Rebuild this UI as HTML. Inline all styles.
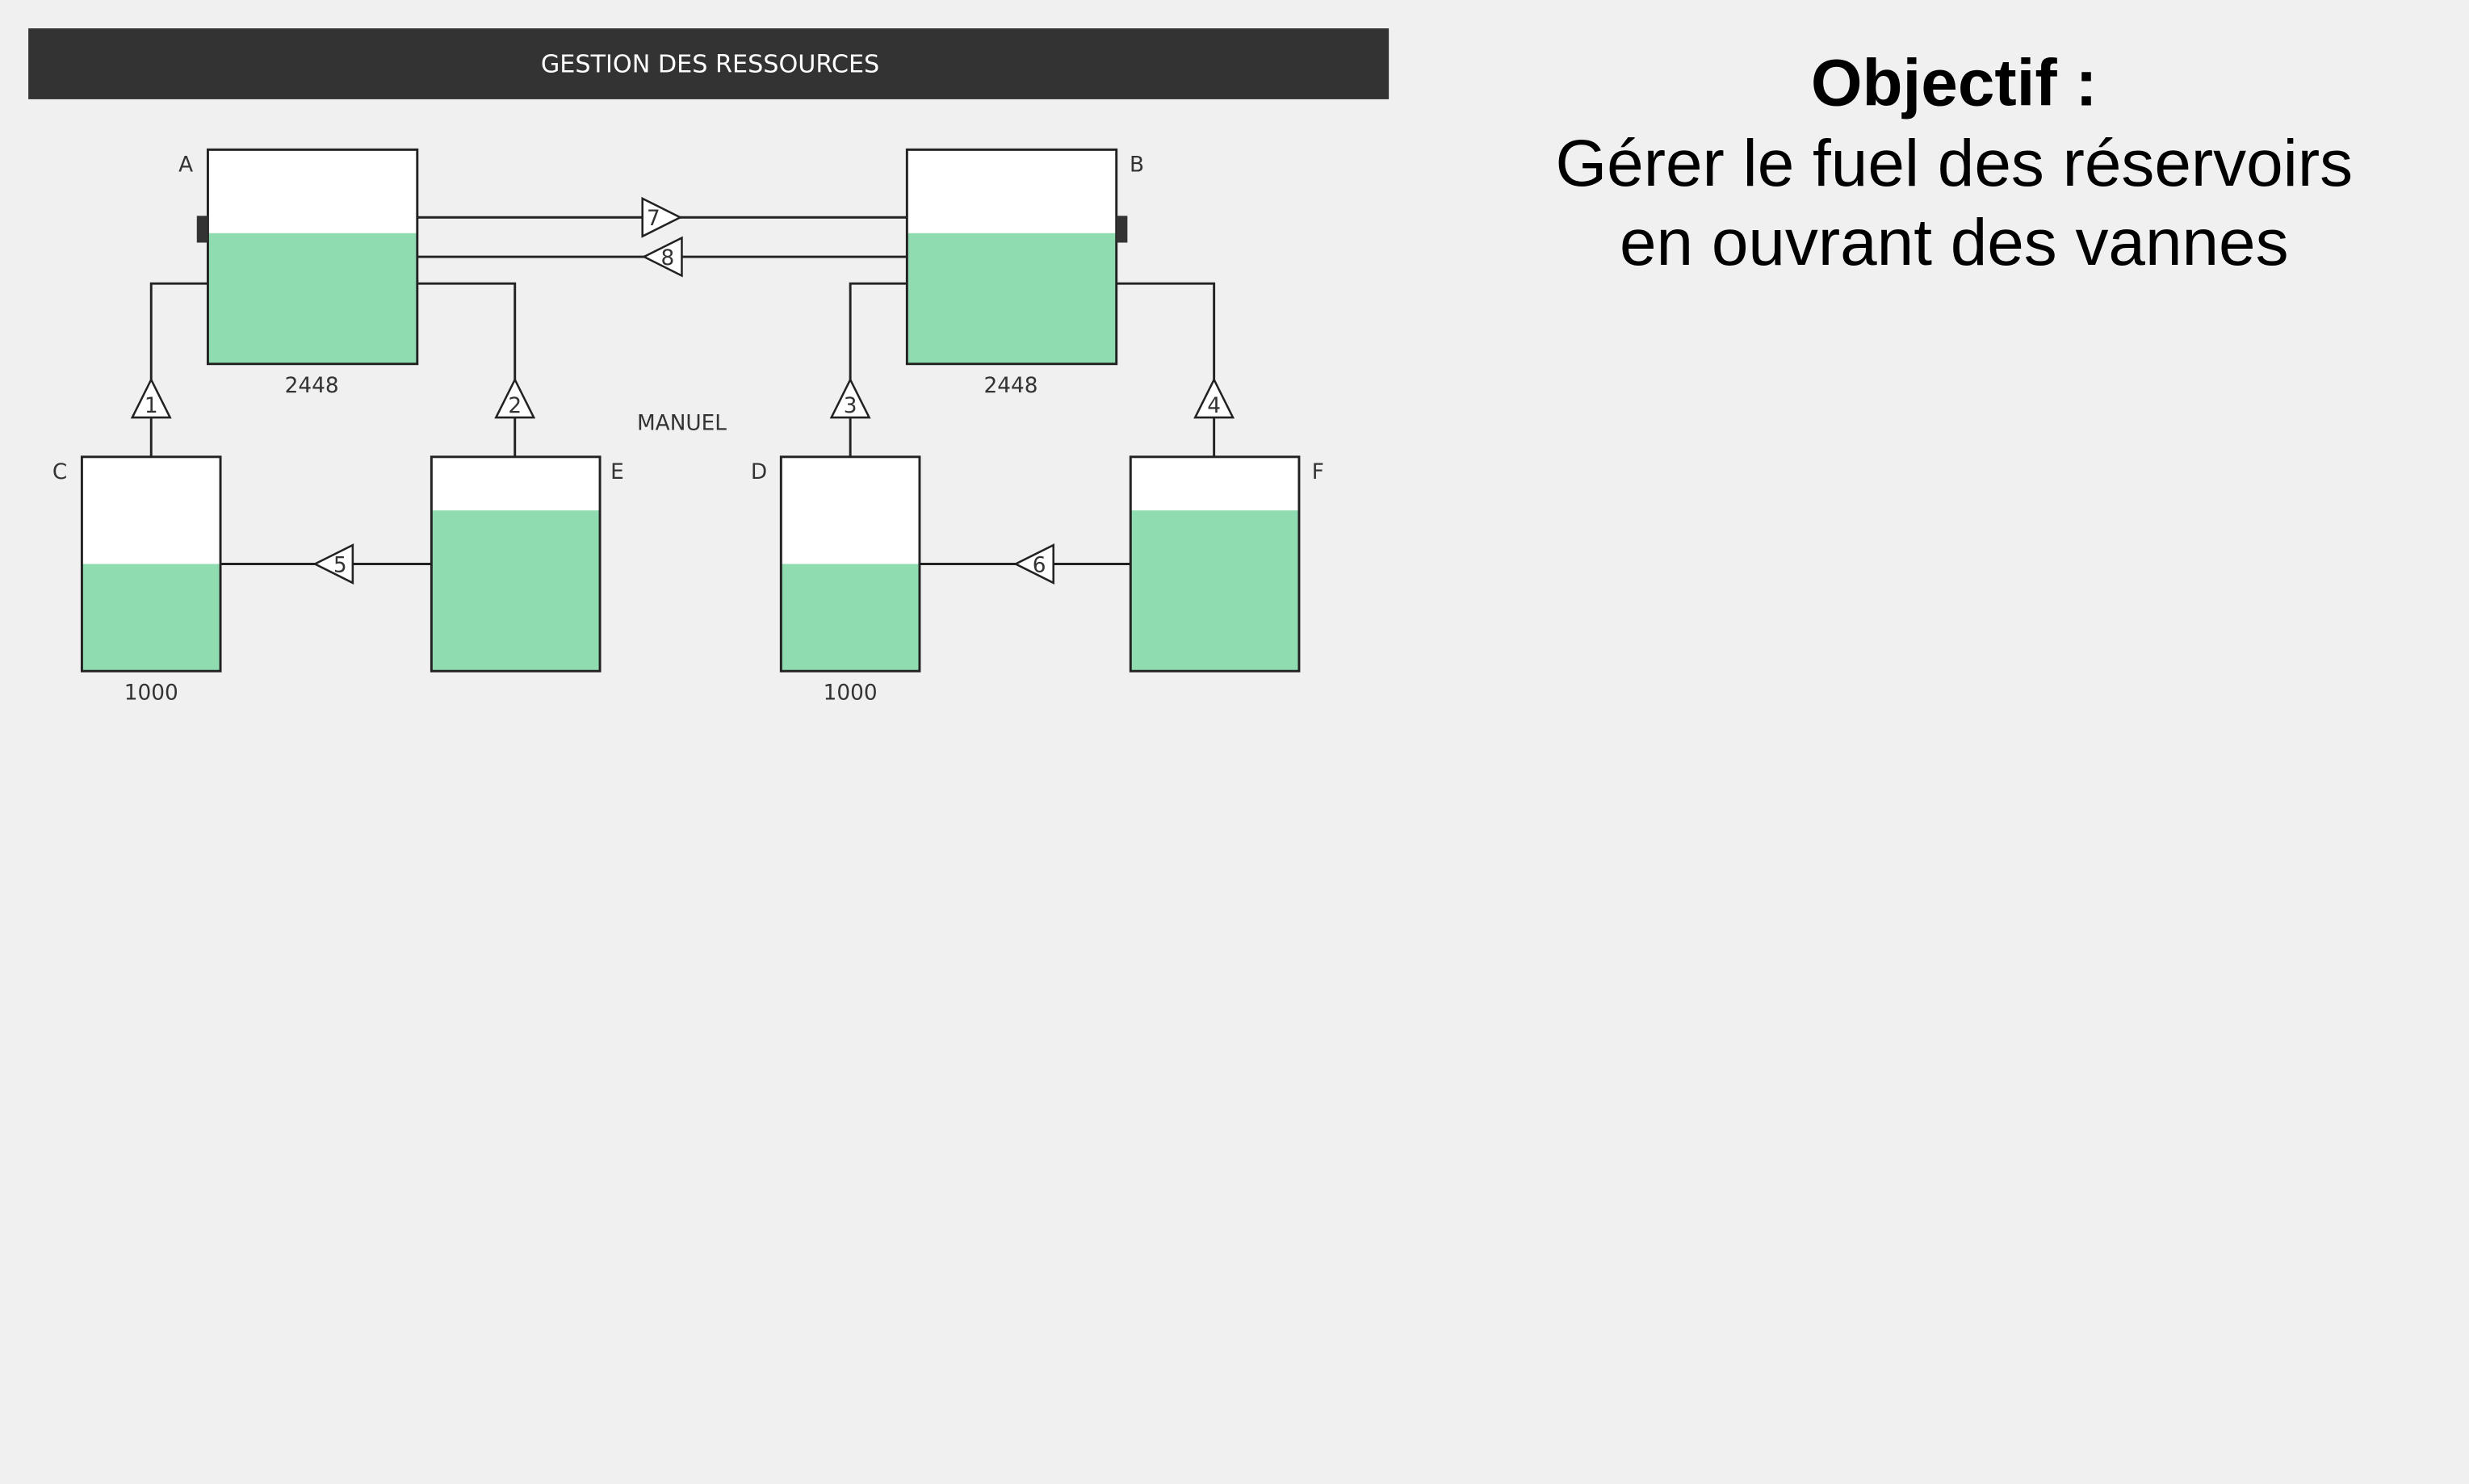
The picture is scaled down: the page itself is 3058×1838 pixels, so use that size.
<!DOCTYPE html>
<html><head><meta charset="utf-8"><style>
html,body{margin:0;padding:0;background:#f0f0f0;}
svg{display:block;}
</style></head><body>
<svg width="3058" height="1838" viewBox="0 0 1568 942" preserveAspectRatio="none" xmlns="http://www.w3.org/2000/svg">
<rect width="1568" height="942" fill="#f0f0f0"/>
<rect x="18" y="18" width="864" height="45" fill="#333"/>
<text x="451" y="46" text-anchor="middle" fill="#fff" font-family="DejaVu Sans, sans-serif" font-size="15.5">GESTION DES RESSOURCES</text>
<g stroke="#222" stroke-width="1.5" fill="none">
<path d="M265 138H576M265 163H576M132 180H96V290M265 180H327V290M576 180H540V290M709 180H771V290M140 358H274M584 358H718"/>
</g>
<g font-family="DejaVu Sans, sans-serif" font-size="13.5" fill="#333">
<rect x="132" y="95" width="133" height="136" fill="#fff"/><rect x="132" y="148" width="133" height="83" fill="#8fdcb0"/><rect x="132" y="95" width="133" height="136" fill="none" stroke="#222" stroke-width="1.5"/>
<rect x="576" y="95" width="133" height="136" fill="#fff"/><rect x="576" y="148" width="133" height="83" fill="#8fdcb0"/><rect x="576" y="95" width="133" height="136" fill="none" stroke="#222" stroke-width="1.5"/>
<rect x="125" y="137" width="7" height="17" fill="#333"/><rect x="709" y="137" width="7" height="17" fill="#333"/>
<rect x="52" y="290" width="88" height="136" fill="#fff"/><rect x="52" y="358" width="88" height="68" fill="#8fdcb0"/><rect x="52" y="290" width="88" height="136" fill="none" stroke="#222" stroke-width="1.5"/>
<rect x="274" y="290" width="107" height="136" fill="#fff"/><rect x="274" y="324" width="107" height="102" fill="#8fdcb0"/><rect x="274" y="290" width="107" height="136" fill="none" stroke="#222" stroke-width="1.5"/>
<rect x="496" y="290" width="88" height="136" fill="#fff"/><rect x="496" y="358" width="88" height="68" fill="#8fdcb0"/><rect x="496" y="290" width="88" height="136" fill="none" stroke="#222" stroke-width="1.5"/>
<rect x="718" y="290" width="107" height="136" fill="#fff"/><rect x="718" y="324" width="107" height="102" fill="#8fdcb0"/><rect x="718" y="290" width="107" height="136" fill="none" stroke="#222" stroke-width="1.5"/>
<g fill="#fff" stroke="#222" stroke-width="1.3">
<polygon points="408,126 432,138 408,150"/>
<polygon points="433,151 409,163 433,175"/>
<polygon points="84,265 96,241 108,265"/>
<polygon points="315,265 327,241 339,265"/>
<polygon points="528,265 540,241 552,265"/>
<polygon points="759,265 771,241 783,265"/>
<polygon points="224,346 200,358 224,370"/>
<polygon points="669,346 645,358 669,370"/>
</g>
<text x="415" y="143" text-anchor="middle">7</text>
<text x="424" y="168" text-anchor="middle">8</text>
<text x="96" y="262" text-anchor="middle">1</text>
<text x="327" y="262" text-anchor="middle">2</text>
<text x="540" y="262" text-anchor="middle">3</text>
<text x="771" y="262" text-anchor="middle">4</text>
<text x="216" y="363" text-anchor="middle">5</text>
<text x="660" y="363" text-anchor="middle">6</text>
<text x="118" y="109" text-anchor="middle">A</text>
<text x="722" y="109" text-anchor="middle">B</text>
<text x="38" y="304" text-anchor="middle">C</text>
<text x="392" y="304" text-anchor="middle">E</text>
<text x="482" y="304" text-anchor="middle">D</text>
<text x="837" y="304" text-anchor="middle">F</text>
<text x="198" y="249" text-anchor="middle">2448</text>
<text x="642" y="249" text-anchor="middle">2448</text>
<text x="96" y="444" text-anchor="middle">1000</text>
<text x="540" y="444" text-anchor="middle">1000</text>
<text x="433" y="273" text-anchor="middle">MANUEL</text>
</g>
<g font-family="Liberation Sans, Arial, sans-serif" font-size="42" fill="#000" text-anchor="middle">
<text x="1241" y="67" font-weight="bold">Objectif :</text>
<text x="1241" y="118">Gérer le fuel des réservoirs</text>
<text x="1241" y="168">en ouvrant des vannes</text>
</g>
</svg>
</body></html>
